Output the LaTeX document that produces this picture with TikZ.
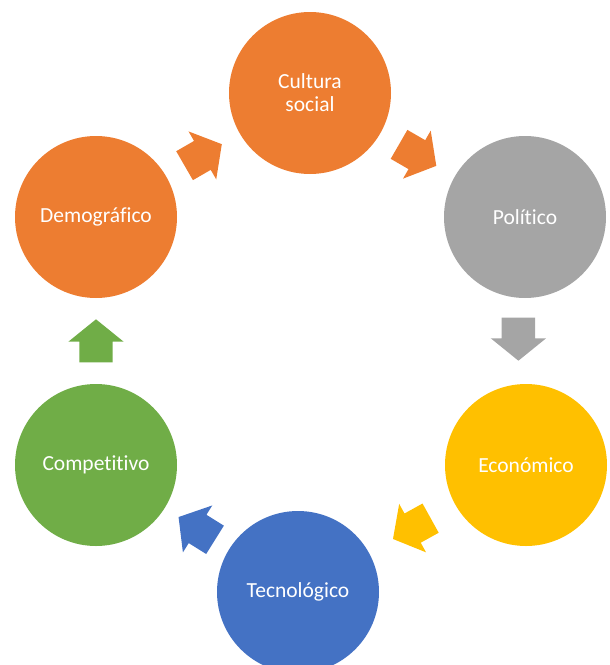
\documentclass[tikz,border=0pt]{standalone}
\usepackage{fontspec}
\setmainfont{Carlito}[Ligatures=NoCommon]
\usetikzlibrary{shapes.arrows,calc}
\definecolor{naranja}{HTML}{ED7D31}
\definecolor{gris}{HTML}{A5A5A5}
\definecolor{oro}{HTML}{FFC000}
\definecolor{azul}{HTML}{4472C4}
\definecolor{verde}{HTML}{70AD47}

\begin{document}
\begin{tikzpicture}[
  x=1pt, y=-1pt,
  circulo/.style={circle, minimum size=162pt, inner sep=0pt, text=white,
    align=center, font=\fontsize{21.5}{23}\selectfont},
  flecha/.style={single arrow, anchor=tail, minimum height=43pt,
    inner xsep=0pt, inner ysep=16.5pt, single arrow head extend=11pt,
    single arrow tip angle=102},
]
\useasboundingbox (0,0) rectangle (610,665);
\node[circulo, fill=naranja] (cul) at (310,93) {Cultura\\social};
\node[circulo, fill=gris] (pol) at (525,217) {Político};
\node[circulo, fill=oro] (eco) at (526,465) {Económico};
\node[circulo, fill=azul] (tec) at (298,592) {Tecnológico};
\node[circulo, fill=verde] (com) at (96,465) {Competitivo};
\node[circulo, fill=naranja] (dem) at (96,217) {Demográfico};
% flechas del ciclo
\node[flecha, fill=naranja, rotate=30] (f1) at ($(dem)!0.5!(cul)!21.5pt!(dem)$) {};
\node[flecha, fill=naranja, rotate=-30] (f2) at ($(cul)!0.5!(pol)!21.5pt!(cul)$) {};
\node[flecha, fill=gris, rotate=-90] (f3) at ($(pol)!0.5!(eco)!21.5pt!(pol)+(-7,-2)$) {};
\node[flecha, fill=oro, rotate=-151] (f4) at ($(eco)!0.5!(tec)!21.5pt!(eco)$) {};
\node[flecha, fill=azul, rotate=148] (f5) at ($(tec)!0.5!(com)!21.5pt!(tec)$) {};
\node[flecha, fill=verde, rotate=90] (f6) at ($(com)!0.5!(dem)!21.5pt!(com)$) {};
\end{tikzpicture}
\end{document}
